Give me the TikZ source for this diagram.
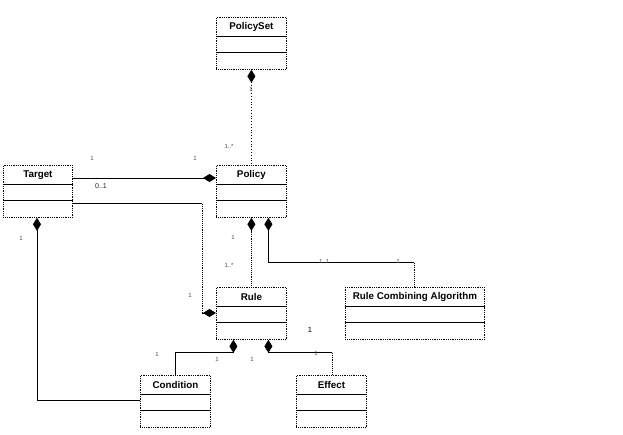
\documentclass[tikz,border=0pt]{standalone}
\usepackage{fontspec}
\setmainfont{Liberation Sans}
\usetikzlibrary{arrows.meta,calc}
\begin{document}
\begin{tikzpicture}[x=1pt,y=-1pt,
  clsbox/.style={draw, densely dotted, line width=0.8pt, minimum height=52pt, inner sep=0pt, anchor=north west},
  clstitle/.style={font=\bfseries\fontsize{9.8}{11}\selectfont, inner sep=0pt},
  sepline/.style={line width=0.8pt},
  comp/.style={{Diamond[length=13pt,width=8pt,fill=black]}-, line width=0.8pt},
  solidcon/.style={line width=0.8pt},
  dotcon/.style={densely dotted, line width=0.9pt},
  mult/.style={font=\fontsize{6}{7}\selectfont, text=black!70, inner sep=0pt}
]
\useasboundingbox (0,0) rectangle (623,434);
\fill[white] (0,0) rectangle (623,434);

% class boxes: name, x, y, width, title
\newcommand\umlcls[5]{%
  \node[clsbox, minimum width=#4pt] (#1) at (#2,#3) {};
  \node[clstitle] (#1-t) at ($(#1.north)+(0,10)$) {#5};
  \draw[sepline] ($(#1.north west)+(0,19)$) -- ($(#1.north east)+(0,19)$);
  \draw[sepline] ($(#1.north west)+(0,35)$) -- ($(#1.north east)+(0,35)$);
}
\umlcls{ps}{216}{17}{70}{PolicySet}
\umlcls{tg}{3}{165}{69}{Target}
\umlcls{po}{216}{165}{70}{Policy}
\umlcls{ru}{216}{287}{70}{Rule}
\umlcls{rca}{345}{287}{139}{Rule Combining Algorithm}
\umlcls{co}{140}{375}{70}{Condition}
\umlcls{ef}{296}{375}{70}{Effect}

% PolicySet <>-- Policy
\draw[comp, dotted] (ps.south) -- (po.north);
% Target -- <>Policy
\draw[comp] ($(po.north west)+(0,13)$) -- ($(tg.north east)+(0,13)$);
% Target -- <>Rule
\draw[comp] ($(ru.north west)+(0,26)$) -- ($(ru.north west)+(-14,26)$) coordinate (tr1);
\draw[dotcon] (tr1) -- (tr1 |- {$(tg.north east)+(0,38)$}) coordinate (tr2);
\draw[solidcon] (tr2) -- ($(tg.north east)+(0,38)$);
% Policy <>-- Rule
\draw[comp] (po.south) -- ($(po.south)+(0,14)$) coordinate (pr1);
\draw[dotcon] (pr1) -- (ru.north);
% Policy <>-- Rule Combining Algorithm
\draw[comp] ($(po.south)+(17,0)$) -- ($(po.south)+(17,45)$) coordinate (pa1)
  -- (pa1 -| {$(rca.north west)+(69,0)$}) coordinate (pa2);
\draw[dotcon] (pa2) -- ($(rca.north west)+(69,0)$);
% Target <>-- Condition
\draw[comp] ($(tg.south west)+(34,0)$) -- ($(tg.south west)+(34,183)$) coordinate (tc1)
  -- (tc1 -| co.west);
% Rule <>-- Condition
\draw[comp] ($(ru.south)+(-18,0)$) -- ($(ru.south)+(-18,13)$) coordinate (rc1)
  -- (rc1 -| {$(co.north west)+(35,0)$}) -- ($(co.north west)+(35,0)$);
% Rule <>-- Effect
\draw[comp] ($(ru.south)+(17,0)$) -- ($(ru.south)+(17,13)$) coordinate (re1)
  -- (re1 -| {$(ef.north west)+(36,0)$}) coordinate (re2);
\draw[dotcon] (re2) -- ($(ef.north west)+(36,0)$);

% multiplicities
\node[mult] (m1) at (251,89) {1};
\node[mult] (m2) at (229,146) {1..*};
\node[mult] (m3) at (92,158) {1};
\node[mult] (m4) at (195,158) {1};
\node[mult, text=black!85, font=\fontsize{7}{8}\selectfont] (m5) at (101,186) {0..1};
\node[mult] (m6) at (21,238) {1};
\node[mult] (m7) at (233,237) {1};
\node[mult] (m8) at (229,265) {1..*};
\node[mult] (m9) at (324,261) {1..1};
\node[mult] (m10) at (398,261) {1};
\node[mult] (m11) at (190,295) {1};
\node[mult, text=black, font=\fontsize{7.5}{8}\selectfont] (m12) at (310,330) {1};
\node[mult] (m13) at (157,354) {1};
\node[mult] (m14) at (217,359) {1};
\node[mult] (m15) at (252,359) {1};
\node[mult] (m16) at (316,353) {1};
\end{tikzpicture}
\end{document}
